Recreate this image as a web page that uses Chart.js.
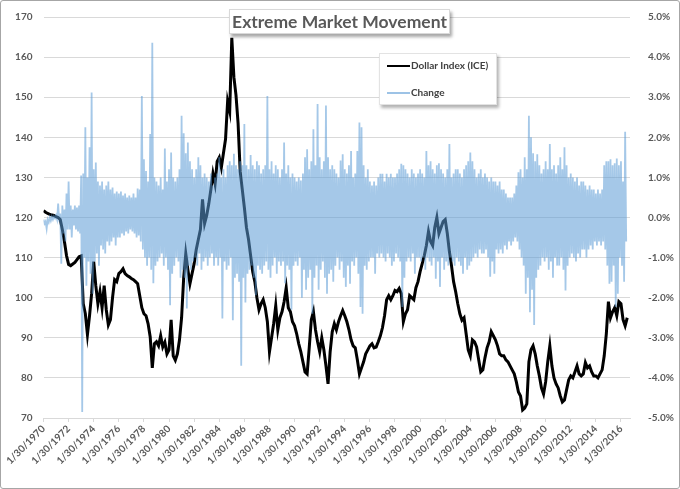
<!DOCTYPE html>
<html>
<head>
<meta charset="utf-8">
<script src="https://cdn.jsdelivr.net/npm/chart.js@4.4.1/dist/chart.umd.min.js"></script>
<style>
  html, body { margin: 0; padding: 0; background: #fff; }
  #wrap { position: relative; width: 680px; height: 489px; overflow: hidden; }
  #c { position: absolute; left: 0; top: 0; }
  #frame { position: absolute; left: 0; top: 0; width: 680px; height: 489px; box-sizing: border-box;
           border: 1px solid #a6a6a6; border-radius: 3px; pointer-events: none; }
  #title { position: absolute; left: 229px; top: 9px; width: 221px; height: 25px; box-sizing: border-box;
           background: #fff; border: 1px solid #d9d9d9; box-shadow: 2px 3px 3px rgba(0,0,0,0.35);
           font-family: Lato, "Open Sans", sans-serif; font-weight: bold; font-size: 17.5px; color: #595959;
           text-align: center; line-height: 23px; white-space: nowrap; }
  #legend { position: absolute; left: 379px; top: 53px; width: 118px; height: 52px; box-sizing: border-box;
            background: #fff; border: 1px solid #e3e3e3; box-shadow: 2px 3px 3px rgba(0,0,0,0.3);
            font-family: Lato, "Open Sans", sans-serif; font-weight: bold; font-size: 10px; color: #404040; }
  .item { position: absolute; left: 7px; height: 12px; line-height: 12px; white-space: nowrap; }
  .swatch { display: inline-block; width: 23px; vertical-align: middle; margin-right: 1px; }
</style>
</head>
<body>
<div id="wrap">
  <canvas id="c" width="680" height="489"></canvas>
  <div id="title">Extreme Market Movement</div>
  <div id="legend">
    <div class="item" style="top:5px"><span class="swatch" style="border-top:2.5px solid #000"></span>Dollar Index (ICE)</div>
    <div class="item" style="top:32px"><span class="swatch" style="border-top:2px solid #9dc3e6"></span>Change</div>
  </div>
  <div id="frame"></div>
</div>
<script>
// ---- data ----
const startYear = 1970;
const dollarPerYear = 6;   // Dollar Index readings per year
const changePerYear = 12;  // Change readings per year
const xTickYears = [1970,1972,1974,1976,1978,1980,1982,1984,1986,1988,1990,1992,1994,1996,1998,2000,2002,2004,2006,2008,2010,2012,2014,2016];
const xMaxYear = 2016.72;

const dollarIndex = [
  121.7,121.3,121.0,120.8,120.6,120.5,
  120.2,120.0,119.5,117.0,114.0,110.5,
  108.3,108.0,108.4,108.8,109.5,110.2,
  110.4,98.5,96.0,90.8,95.5,101.0,
  109.0,103.0,98.5,101.5,97.5,103.0,
  97.0,93.2,94.5,100.0,104.5,104.0,
  106.0,106.5,107.2,106.0,105.5,105.2,
  104.8,104.5,104.0,103.5,100.5,97.5,
  96.0,95.5,93.5,90.2,82.5,88.5,
  89.0,88.0,90.5,87.7,88.9,86.0,
  87.0,94.5,85.5,84.4,86.0,89.5,
  95.0,105.0,111.0,107.0,103.5,106.0,
  108.5,112.0,114.5,117.0,124.5,118.5,
  120.5,123.4,127.0,131.0,128.4,134.0,
  135.0,132.5,136.0,139.5,149.0,146.5,
  164.8,155.0,150.5,143.5,131.5,127.0,
  122.5,117.5,114.5,110.5,106.5,104.0,
  100.0,97.0,98.5,99.5,97.5,94.0,
  86.5,90.0,93.5,98.0,92.0,95.0,
  96.5,99.0,102.5,97.5,96.5,94.0,
  93.0,91.0,88.5,86.5,84.0,81.5,
  81.0,87.5,94.5,96.5,92.0,89.0,
  86.5,90.0,87.0,83.0,78.5,86.5,
  91.5,93.5,92.0,94.0,95.5,96.8,
  95.5,94.0,92.0,89.5,88.0,87.5,
  84.5,81.0,82.5,84.0,86.0,87.0,
  88.0,88.5,87.5,87.7,89.0,90.5,
  92.5,95.5,99.5,100.5,99.5,100.5,
  101.8,101.5,102.3,101.0,94.0,96.0,
  97.0,100.5,100.0,99.5,102.5,104.0,
  106.5,108.5,110.5,113.0,116.5,114.0,
  113.0,117.5,120.0,116.0,117.5,119.0,
  119.5,116.0,111.5,108.0,104.0,101.5,
  98.5,96.0,94.4,95.0,91.0,87.0,
  85.5,89.5,89.0,87.7,84.5,81.5,
  82.0,85.0,87.5,89.0,91.5,90.5,
  89.5,88.0,86.0,85.5,85.5,84.5,
  84.0,83.0,82.0,81.0,79.0,76.5,
  75.5,72.0,72.5,73.5,84.0,87.0,
  88.0,86.0,83.0,80.5,77.5,76.0,
  79.0,84.0,88.0,83.0,80.0,78.5,
  77.5,75.5,74.0,74.5,77.0,79.5,
  80.5,80.0,81.5,83.0,81.0,80.5,
  81.0,83.8,82.5,83.0,81.5,80.5,
  80.5,80.0,81.0,82.0,85.5,91.0,
  99.0,95.0,96.5,97.5,95.5,99.0,
  98.5,94.5,93.0,95.0
];

// percent change, alternating swing highs and lows
const changePct = [
  -0.05,-0.15,-0.1,-0.28,-0.05,-0.12,0.0,-0.08,0.02,-0.05,0.03,-0.02,
  0.05,-0.05,0.35,-0.1,0.1,-1.15,0.3,-0.4,0.2,-0.6,0.6,-0.3,
  0.9,-0.3,0.3,-0.5,0.2,-0.2,0.3,-0.3,0.25,-0.35,0.3,-0.4,
  1.05,-4.85,1.1,-1.0,2.25,-1.7,1.0,-1.1,1.75,-1.4,3.12,-1.9,
  1.2,-1.1,1.37,-0.9,0.9,-1.2,0.8,-0.7,0.9,-0.8,0.7,-0.9,
  0.8,-0.6,0.9,-0.7,0.7,-0.6,0.75,-0.5,0.6,-0.7,0.65,-0.5,
  0.6,-0.5,0.65,-0.4,0.55,-0.45,0.6,-0.35,0.5,-0.4,0.55,-0.3,
  0.5,-0.35,0.6,-0.4,0.5,-0.5,0.72,-0.45,0.7,-0.6,3.03,-0.8,
  1.45,-1.0,1.16,-1.2,0.9,-1.0,2.08,-1.3,4.36,-1.64,1.0,-1.2,
  0.9,-1.1,0.8,-1.0,1.0,-0.9,0.7,-1.2,1.72,-1.0,0.9,-1.3,
  1.2,-2.19,1.62,-1.4,1.0,-1.2,0.9,-1.0,1.0,-1.1,1.2,-1.5,
  2.54,-1.3,2.1,-1.5,1.6,-2.27,1.87,-1.2,1.4,-1.3,1.2,-1.1,
  1.0,-1.0,1.2,-1.2,1.5,-0.9,1.3,-1.3,1.0,-1.1,1.1,-1.0,
  1.0,-1.2,0.9,-1.0,1.1,-0.9,0.8,-1.2,1.0,-1.0,1.1,-1.2,
  1.5,-1.0,1.0,-2.52,1.2,-1.1,1.0,-1.3,1.3,-1.2,1.4,-1.0,
  1.3,-2.56,1.59,-1.5,1.3,-1.4,1.2,-1.6,1.4,-3.7,1.3,-1.5,
  2.33,-2.12,1.3,-1.4,1.2,-1.3,1.56,-1.2,1.3,-1.5,1.2,-1.94,
  1.4,-1.2,1.3,-1.3,1.1,-1.4,1.2,-1.2,1.3,-1.1,3.03,-1.3,
  1.2,-1.5,1.4,-1.2,1.1,-1.0,1.3,-1.4,1.2,-1.1,1.0,-1.2,
  1.2,-1.1,1.87,-1.64,1.1,-1.2,1.3,-1.3,1.0,-2.3,1.1,-1.2,
  1.0,-1.1,0.9,-1.2,1.0,-1.0,0.92,-2.0,1.1,-1.3,1.5,-1.8,
  1.7,-1.5,1.2,-1.3,1.4,-2.4,2.2,-1.5,1.3,-1.2,2.83,-1.8,
  1.5,-1.3,1.2,-1.1,1.4,-1.5,2.79,-1.9,1.5,-1.4,1.2,-1.3,
  1.3,-1.6,1.2,-1.2,1.1,-1.0,1.0,-1.3,1.42,-1.1,1.58,-1.5,
  1.2,-1.73,1.1,-1.2,1.3,-1.65,1.66,-1.1,1.0,-1.2,1.1,-1.0,
  1.66,-1.4,2.37,-2.23,2.25,-2.4,1.3,-1.2,1.0,-1.3,1.2,-1.1,
  0.9,-1.0,0.8,-1.0,0.9,-1.4,0.8,-0.9,1.0,-1.0,1.09,-0.9,
  1.09,-1.0,0.9,-1.1,1.09,-0.9,1.0,-1.0,1.09,-1.2,1.0,-1.1,
  1.0,-0.9,1.1,-1.0,1.2,-1.1,1.34,-2.23,1.3,-1.5,1.2,-1.1,
  1.1,-1.0,1.0,-1.1,1.2,-0.9,1.1,-1.4,1.0,-1.0,1.1,-1.0,
  1.2,-1.1,1.1,-1.0,1.0,-1.3,1.66,-1.0,1.3,-1.1,1.4,-1.2,
  1.2,-1.0,1.1,-1.53,1.3,-1.1,1.35,-1.73,1.2,-1.0,1.1,-1.3,
  1.0,-1.1,1.2,-1.2,1.83,-1.0,1.0,-1.1,1.1,-1.2,1.2,-1.0,
  1.2,-1.1,1.1,-1.2,1.0,-1.4,1.2,-1.0,1.3,-1.3,1.4,-1.2,
  1.62,-1.1,1.4,-1.0,1.2,-0.9,1.0,-1.0,1.1,-0.8,1.2,-0.9,
  1.0,-0.9,1.1,-0.8,1.0,-1.0,0.9,-1.48,1.0,-1.1,0.9,-1.4,
  0.9,-0.8,0.8,-0.9,0.9,-0.8,0.7,-0.9,0.7,-0.7,0.6,-0.8,
  0.5,-0.6,0.5,-0.7,0.5,-0.6,0.6,-0.5,0.8,-0.6,1.13,-0.8,
  1.2,-1.0,1.0,-1.2,1.5,-1.9,1.2,-1.5,2.54,-2.36,2.0,-1.8,
  1.6,-2.68,1.4,-1.5,1.58,-1.3,1.3,-1.2,1.1,-1.0,1.2,-1.1,
  1.4,-1.0,1.2,-1.3,1.83,-1.1,1.2,-1.5,1.3,-1.0,1.1,-1.2,
  1.3,-1.2,1.5,-1.0,1.2,-1.3,1.75,-1.82,1.3,-1.2,1.0,-1.0,
  1.1,-0.9,1.0,-1.0,0.9,-1.1,1.0,-0.9,0.8,-1.0,0.9,-0.8,
  0.9,-0.8,0.8,-1.0,0.7,-0.8,0.8,-0.7,0.7,-0.8,0.7,-0.6,
  0.6,-0.7,0.7,-0.6,0.6,-0.7,0.7,-0.6,1.3,-0.8,1.4,-1.2,
  1.4,-1.65,1.45,-1.6,1.3,-1.2,1.35,-2.23,1.47,-1.9,1.3,-1.0,
  1.4,-1.2,0.9,-1.6,2.14,-0.6
];

// ---- build library data ----
const dollarPoints = dollarIndex.map((v, i) => ({ x: startYear + i / dollarPerYear, y: v }));
const changePoints = changePct.map((v, i) => ({ x: startYear + i / changePerYear, y: v }));

const tickFont = { family: 'Lato', size: 10, weight: 'bold' };
const tickColor = '#595959';

new Chart(document.getElementById('c'), {
  type: 'line',
  data: {
    datasets: [
      { label: 'Dollar Index (ICE)', data: dollarPoints, borderColor: '#000000', borderWidth: 3,
        pointRadius: 0, tension: 0, yAxisID: 'y', order: 2 },
      { label: 'Change', data: changePoints, borderColor: 'rgba(91,155,213,0.55)', borderWidth: 1.8,
        pointRadius: 0, tension: 0, yAxisID: 'y2', order: 1 }
    ]
  },
  options: {
    responsive: false,
    animation: false,
    events: [],
    layout: { padding: { top: 16, left: 0, right: 0, bottom: 0 } },
    plugins: { legend: { display: false }, title: { display: false }, tooltip: { enabled: false } },
    scales: {
      x: {
        type: 'linear', min: startYear, max: xMaxYear,
        afterBuildTicks: s => { s.ticks = xTickYears.map(v => ({ value: v })); },
        afterFit: s => { s.height = 71; },
        ticks: { autoSkip: false, minRotation: 45, maxRotation: 45, padding: 1,
                 color: tickColor, font: tickFont, callback: v => '1/30/' + v },
        grid: { display: true, drawOnChartArea: false, drawTicks: true, tickLength: 4, color: '#d9d9d9' },
        border: { display: true, color: '#d9d9d9' }
      },
      y: {
        position: 'left', min: 70, max: 170,
        afterFit: s => { s.width = 43.5; },
        ticks: { stepSize: 10, padding: 11, color: tickColor, font: tickFont },
        grid: { color: '#d9d9d9', drawTicks: false },
        border: { display: false }
      },
      y2: {
        position: 'right', min: -5, max: 5,
        afterFit: s => { s.width = 50; },
        ticks: { stepSize: 1, padding: 10, color: tickColor, font: tickFont, callback: v => v.toFixed(1) + '%' },
        grid: { display: false },
        border: { display: false }
      }
    }
  }
});
</script>
</body>
</html>
